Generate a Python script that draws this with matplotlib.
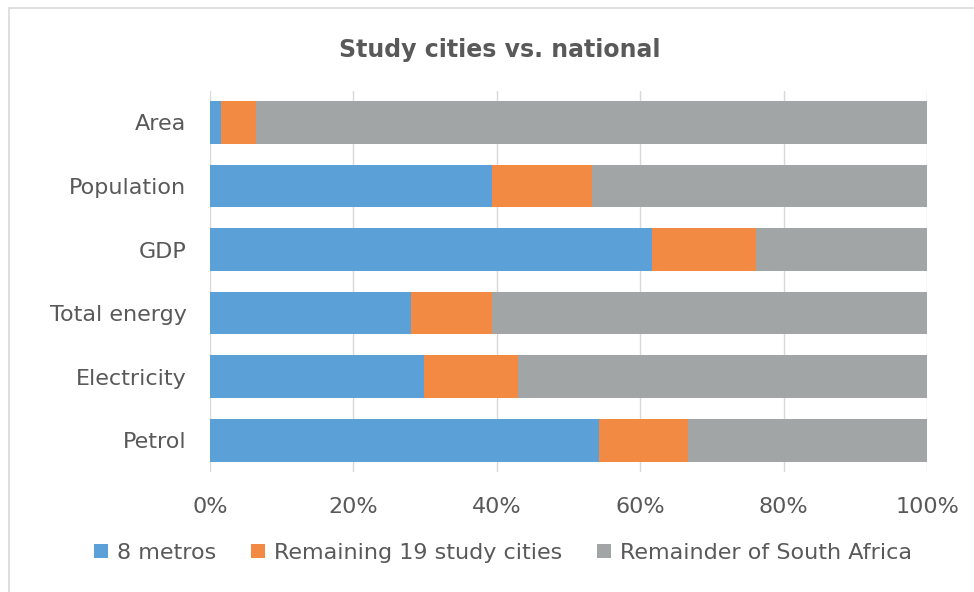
import matplotlib
matplotlib.use("Agg")
import matplotlib.pyplot as plt
from matplotlib.patches import Rectangle
from matplotlib.ticker import FuncFormatter

categories = ["Area", "Population", "GDP", "Total energy", "Electricity", "Petrol"]
metros = [1.5, 39.3, 61.6, 28.0, 29.8, 54.2]
remaining19 = [4.9, 14.0, 14.5, 11.3, 13.2, 12.5]
remainder_sa = [93.6, 46.7, 23.9, 60.7, 57.0, 33.3]
series_names = ["8 metros", "Remaining 19 study cities", "Remainder of South Africa"]
xticks = [0, 20, 40, 60, 80, 100]

plt.rcParams['font.family'] = ['DejaVu Sans']

txt = "#595959"
fig = plt.figure(figsize=(9.74, 5.92), dpi=100)
fig.patches.append(Rectangle((9/974, -0.1), 1.2, 1 - 8/592 + 0.1, transform=fig.transFigure,
                             fill=False, edgecolor="#d9d9d9", linewidth=1.2))
ax = fig.add_axes([210/974, 1 - 472/592, (927 - 210)/974, (472 - 90.6)/592])

y = list(range(len(categories)))
colors = ["#5BA0D6", "#F28A44", "#A2A5A5"]
left = [0] * len(categories)
for vals, name, c in zip([metros, remaining19, remainder_sa], series_names, colors):
    ax.barh(y, vals, left=left, height=0.67, color=c, label=name, zorder=3)
    left = [a + b for a, b in zip(left, vals)]

ax.set_ylim(len(categories) - 0.5, -0.5)
ax.set_xlim(0, 100)
ax.set_yticks(y)
ax.set_yticklabels(categories, fontsize=16, color=txt)
ax.set_xticks(xticks)
ax.xaxis.set_major_formatter(FuncFormatter(lambda v, p: f"{v:.0f}%"))
ax.tick_params(axis='x', labelsize=16, labelcolor=txt, length=0, pad=18)
ax.tick_params(axis='y', length=0, pad=17)
ax.grid(axis='x', color="#d9d9d9", linewidth=1, zorder=0)
for s in ax.spines.values():
    s.set_visible(False)

fig.text(500/974, 1 - 50/592, "Study cities vs. national", fontsize=17, fontweight='bold',
         color=txt, ha='center', va='center')

leg = fig.legend(loc='center', bbox_to_anchor=(503/974, 1 - 553/592), ncol=3, frameon=False,
                 fontsize=16, handlelength=0.6, handleheight=0.6, handletextpad=0.4,
                 columnspacing=1.6, labelcolor=txt)

fig.savefig("out.png", dpi=100)
